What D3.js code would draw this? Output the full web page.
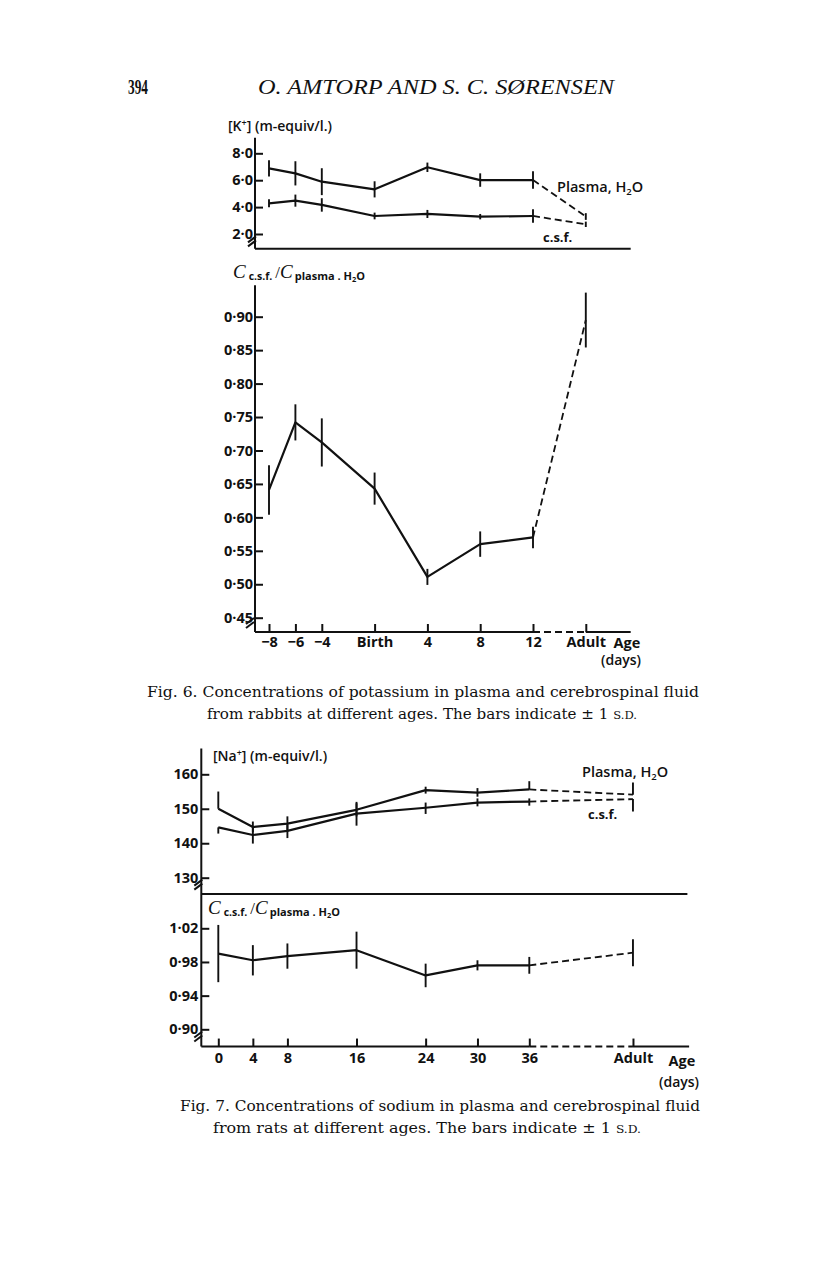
<!DOCTYPE html>
<html>
<head>
<meta charset="utf-8">
<script src="https://cdn.jsdelivr.net/npm/d3@7"></script>
<style>
  body { margin: 0; background: #fff; }
  svg { display: block; }
</style>
</head>
<body>
<svg id="page" width="816" height="1281"></svg>
<script>
// ---------- Fig. 6 (rabbits, potassium) ----------
const kAges = [-8, -6, -4, 0, 4, 8, 12];
const kAdultPos = 16; // "Adult" sits one step past day 12 on the axis
const kTickLabels = ["\u22128", "\u22126", "\u22124", "Birth", "4", "8", "12", "Adult"];
const kPlasma = [6.88, 6.51, 5.89, 5.32, 6.96, 6.01, 6.01, 3.30];
const kPlasmaSD = [0.6, 0.9, 1.0, 0.6, 0.35, 0.5, 0.65, 0.25];
const kCsf = [4.28, 4.48, 4.16, 3.34, 3.49, 3.29, 3.34, 2.72];
const kCsfSD = [0.3, 0.45, 0.5, 0.25, 0.3, 0.2, 0.5, 0.2];
const kRatio = [0.641, 0.742, 0.712, 0.643, 0.511, 0.560, 0.570, 0.895];
const kRatioSD = [0.037, 0.027, 0.036, 0.024, 0.012, 0.019, 0.016, 0.041];
const kTicks = [2, 4, 6, 8];
const kRatioTicks = [0.45, 0.50, 0.55, 0.60, 0.65, 0.70, 0.75, 0.80, 0.85, 0.90];

// ---------- Fig. 7 (rats, sodium) ----------
const naAges = [0, 4, 8, 16, 24, 30, 36];
const naAdultPos = 48;
const naTickLabels = ["0", "4", "8", "16", "24", "30", "36", "Adult"];
const naPlasma   = [150.0, 144.7, 145.7, 149.7, 155.4, 154.7, 155.6, 154.1];
const naPlasmaHi = [155.0, 146.3, 147.8, 151.6, 156.4, 156.0, 158.0, 157.6];
const naPlasmaLo = [150.0, 143.2, 143.8, 147.8, 154.4, 153.5, 155.6, 154.1];
const naCsf      = [144.6, 142.4, 143.6, 148.6, 150.3, 151.8, 152.1, 152.8];
const naCsfHi    = [144.6, 144.8, 145.4, 152.0, 151.8, 153.0, 153.0, 152.8];
const naCsfLo    = [142.8, 139.9, 141.5, 145.1, 148.5, 150.7, 150.9, 149.2];
const naRatio = [0.990, 0.982, 0.987, 0.994, 0.964, 0.976, 0.976, 0.991];
const naRatioSD = [0.034, 0.018, 0.015, 0.022, 0.014, 0.006, 0.010, 0.016];
const naTicks = [130, 140, 150, 160];
const naRatioTicks = [0.90, 0.94, 0.98, 1.02];

const ink = "#111";
const sans = "'Open Sans', 'DejaVu Sans', sans-serif";
const serif = "'DejaVu Serif', 'Liberation Serif', serif";
const svg = d3.select("#page");

const dotFmt = f => d => d3.format(f)(d).replace(".", "\u00b7");

// page header
svg.append("text").attr("x", 128).attr("y", 94)
  .attr("font-family", "'Liberation Serif', serif").attr("font-weight", "bold")
  .attr("font-size", 20).attr("fill", ink)
  .attr("textLength", 20).attr("lengthAdjust", "spacingAndGlyphs").text("394");
svg.append("text").attr("x", 258).attr("y", 94)
  .attr("font-family", "'Liberation Serif', serif").attr("font-style", "italic")
  .attr("font-size", 22).attr("fill", ink)
  .attr("textLength", 356).attr("lengthAdjust", "spacingAndGlyphs")
  .text("O. AMTORP AND S. C. S\u00d8RENSEN");

// ---------- helpers ----------
function line(g, x1, y1, x2, y2, dashed) {
  g.append("line").attr("x1", x1).attr("y1", y1).attr("x2", x2).attr("y2", y2)
    .attr("stroke", ink).attr("stroke-width", 2)
    .attr("stroke-dasharray", dashed ? "7,4" : null);
}

function breakMark(g, x, y) {
  [0, 4].forEach(o => line(g, x - 5, y + 3 - o, x + 3, y - 3 - o));
}

function yAxis(g, y, ticks, fmt, xPos, pad) {
  const ax = g.append("g").attr("transform", `translate(${xPos},0)`)
    .call(d3.axisLeft(y).tickValues(ticks).tickSize(-8).tickPadding(pad).tickFormat(fmt));
  ax.select(".domain").remove();
  ax.selectAll(".tick line").attr("stroke", ink).attr("stroke-width", 2);
  ax.selectAll(".tick text").attr("fill", ink).attr("font-family", sans)
    .attr("font-weight", 700).attr("font-size", 14.5);
}

function xAxis(g, x, vals, labels, yPos, pad) {
  const ax = g.append("g").attr("transform", `translate(0,${yPos})`)
    .call(d3.axisBottom(x).tickValues(vals).tickSize(-8).tickPadding(pad)
      .tickFormat((d, i) => labels[i]));
  ax.select(".domain").remove();
  ax.selectAll(".tick line").attr("stroke", ink).attr("stroke-width", 2);
  ax.selectAll(".tick text").attr("fill", ink).attr("font-family", sans)
    .attr("font-weight", 700).attr("font-size", 14.5);
}

// solid through the dated points, dashed to the adult point
function series(g, xs, ys, x, y) {
  const pts = xs.map((d, i) => [x(d), y(ys[i])]);
  g.append("path").attr("d", d3.line()(pts.slice(0, -1)))
    .attr("fill", "none").attr("stroke", ink).attr("stroke-width", 2.2)
    .attr("stroke-linejoin", "round");
  g.append("path").attr("d", d3.line()(pts.slice(-2)))
    .attr("fill", "none").attr("stroke", ink).attr("stroke-width", 1.8)
    .attr("stroke-dasharray", "7,4");
}

function bars(g, xs, lo, hi, x, y) {
  g.selectAll(null).data(xs).enter().append("line")
    .attr("x1", d => x(d)).attr("x2", d => x(d))
    .attr("y1", (d, i) => y(lo[i])).attr("y2", (d, i) => y(hi[i]))
    .attr("stroke", ink).attr("stroke-width", 1.9);
}

function ratioTitle(g, xPos, yPos) {
  const t = g.append("text").attr("x", xPos).attr("y", yPos).attr("fill", ink);
  t.append("tspan").attr("font-family", "'Liberation Serif', serif")
    .attr("font-style", "italic").attr("font-size", 19).text("C");
  t.append("tspan").attr("font-family", sans).attr("font-weight", 700)
    .attr("font-size", 10.5).attr("dx", 3).attr("dy", 2).text("c.s.f.");
  t.append("tspan").attr("font-family", "'Liberation Serif', serif")
    .attr("font-size", 17).attr("dx", 3).attr("dy", -2).text("/");
  t.append("tspan").attr("font-family", "'Liberation Serif', serif")
    .attr("font-style", "italic").attr("font-size", 19).text("C");
  t.append("tspan").attr("font-family", sans).attr("font-weight", 700)
    .attr("font-size", 11).attr("dx", 2).attr("dy", 2).text("plasma . H");
  t.append("tspan").attr("font-family", sans).attr("font-weight", 700)
    .attr("font-size", 7.5).attr("dy", 2).text("2");
  t.append("tspan").attr("font-family", sans).attr("font-weight", 700)
    .attr("font-size", 11).attr("dy", -2).text("O");
}

function concTitle(g, xPos, yPos, ion) {
  const t = g.append("text").attr("x", xPos).attr("y", yPos).attr("fill", ink)
    .attr("font-family", sans).attr("font-weight", 600).attr("font-size", 14);
  t.append("tspan").text(`[${ion}`);
  t.append("tspan").attr("font-size", 9).attr("dy", -5).text("+");
  t.append("tspan").attr("dy", 5).text("] (m-equiv/l.)");
}

function h2oLabel(g, xPos, yPos) {
  const t = g.append("text").attr("x", xPos).attr("y", yPos).attr("fill", ink)
    .attr("font-family", sans).attr("font-weight", 600).attr("font-size", 14.5);
  t.append("tspan").text("Plasma, H");
  t.append("tspan").attr("font-size", 9.5).attr("dy", 3).text("2");
  t.append("tspan").attr("dy", -3).text("O");
}

function plainLabel(g, xPos, yPos, s) {
  g.append("text").attr("x", xPos).attr("y", yPos).attr("fill", ink)
    .attr("font-family", sans).attr("font-weight", 700).attr("font-size", 13).text(s);
}

function caption(g, xPos, yPos, width, s, tail) {
  const t = g.append("text").attr("x", xPos).attr("y", yPos).attr("fill", ink)
    .attr("font-family", serif).attr("font-size", 15)
    .attr("textLength", width).attr("lengthAdjust", "spacingAndGlyphs");
  t.append("tspan").text(s);
  if (tail) t.append("tspan").attr("font-size", 11.5).text(tail);
}

// ================= Fig. 6 =================
const f6 = svg.append("g");
const x6 = d3.scaleLinear().domain([-8, 12]).range([269, 533]);
const yK = d3.scaleLinear().domain([2, 8]).range([234, 153.3]);
const yR6 = d3.scaleLinear().domain([0.45, 0.90]).range([617.7, 316.7]);
const k6x = [...kAges, kAdultPos];
const ax6 = x6(-8) - 14; // y-axis position

// upper panel: concentrations
line(f6, ax6, yK(9.15), ax6, yK(0.9));
line(f6, ax6, yK(0.9), x6(19.4), yK(0.9));
breakMark(f6, ax6 - 2, yK(1.3));
yAxis(f6, yK, kTicks, dotFmt(".1f"), ax6, 2);
concTitle(f6, 228, 131, "K");
series(f6, k6x, kPlasma, x6, yK);
series(f6, k6x, kCsf, x6, yK);
bars(f6, k6x, kPlasma.map((v, i) => v - kPlasmaSD[i]), kPlasma.map((v, i) => v + kPlasmaSD[i]), x6, yK);
bars(f6, k6x, kCsf.map((v, i) => v - kCsfSD[i]), kCsf.map((v, i) => v + kCsfSD[i]), x6, yK);
h2oLabel(f6, 557, 192);
plainLabel(f6, 543, 242, "c.s.f.");

// lower panel: ratio
line(f6, ax6, yR6(0.947), ax6, yR6(0.4286));
line(f6, ax6, yR6(0.4286), x6(12), yR6(0.4286));
line(f6, x6(12), yR6(0.4286), x6(kAdultPos), yR6(0.4286), true);
line(f6, x6(kAdultPos), yR6(0.4286), x6(19.4), yR6(0.4286));
breakMark(f6, ax6 - 4, yR6(0.439));
yAxis(f6, yR6, kRatioTicks, dotFmt(".2f"), ax6, 2);
xAxis(f6, x6, k6x, kTickLabels, yR6(0.4286), 5);
ratioTitle(f6, 233, 278);
series(f6, k6x, kRatio, x6, yR6);
bars(f6, k6x, kRatio.map((v, i) => v - kRatioSD[i]), kRatio.map((v, i) => v + kRatioSD[i]), x6, yR6);
f6.append("text").attr("x", 627).attr("y", 648).attr("text-anchor", "middle")
  .attr("fill", ink).attr("font-family", sans).attr("font-weight", 700).attr("font-size", 14.5).text("Age");
f6.append("text").attr("x", 621).attr("y", 665).attr("text-anchor", "middle")
  .attr("fill", ink).attr("font-family", sans).attr("font-weight", 600).attr("font-size", 14).text("(days)");

caption(f6, 147, 697, 552, "Fig. 6. Concentrations of potassium in plasma and cerebrospinal fluid");
caption(f6, 207, 719, 430, "from rabbits at different ages. The bars indicate \u00b1 1 ", "S.D.");

// ================= Fig. 7 =================
const f7 = svg.append("g");
const x7 = d3.scaleLinear().domain([0, 36]).range([218.3, 529.3]);
const yNa = d3.scaleLinear().domain([130, 160]).range([877.7, 774.3]);
const yR7 = d3.scaleLinear().domain([0.90, 1.02]).range([1029.3, 928.3]);
const k7x = [...naAges, naAdultPos];
const ax7 = x7(0) - 17;
const base7 = yR7(0.8795);

line(f7, ax7, yNa(167.5), ax7, base7);
line(f7, ax7, yNa(125.3), x7(54.3), yNa(125.3));
line(f7, ax7, base7, x7(36), base7);
line(f7, x7(36), base7, x7(naAdultPos), base7, true);
line(f7, x7(naAdultPos), base7, x7(54.5), base7);
breakMark(f7, ax7 - 2, yNa(127.4));
breakMark(f7, ax7 - 2, yR7(0.889));

// upper panel
yAxis(f7, yNa, naTicks, d => d, ax7, 3);
concTitle(f7, 213, 761, "Na");
series(f7, k7x, naPlasma, x7, yNa);
series(f7, k7x, naCsf, x7, yNa);
bars(f7, k7x, naPlasmaLo, naPlasmaHi, x7, yNa);
bars(f7, k7x, naCsfLo, naCsfHi, x7, yNa);
h2oLabel(f7, 582, 777);
plainLabel(f7, 588, 819, "c.s.f.");

// lower panel
yAxis(f7, yR7, naRatioTicks, dotFmt(".2f"), ax7, 3);
xAxis(f7, x7, k7x, naTickLabels, base7, 6);
ratioTitle(f7, 208, 914);
series(f7, k7x, naRatio, x7, yR7);
bars(f7, k7x, naRatio.map((v, i) => v - naRatioSD[i]), naRatio.map((v, i) => v + naRatioSD[i]), x7, yR7);
f7.append("text").attr("x", 682).attr("y", 1066).attr("text-anchor", "middle")
  .attr("fill", ink).attr("font-family", sans).attr("font-weight", 700).attr("font-size", 14.5).text("Age");
f7.append("text").attr("x", 679).attr("y", 1087).attr("text-anchor", "middle")
  .attr("fill", ink).attr("font-family", sans).attr("font-weight", 600).attr("font-size", 14).text("(days)");

caption(f7, 180, 1111, 520, "Fig. 7. Concentrations of sodium in plasma and cerebrospinal fluid");
caption(f7, 213, 1133, 428, "from rats at different ages. The bars indicate \u00b1 1 ", "S.D.");
</script>
</body>
</html>
